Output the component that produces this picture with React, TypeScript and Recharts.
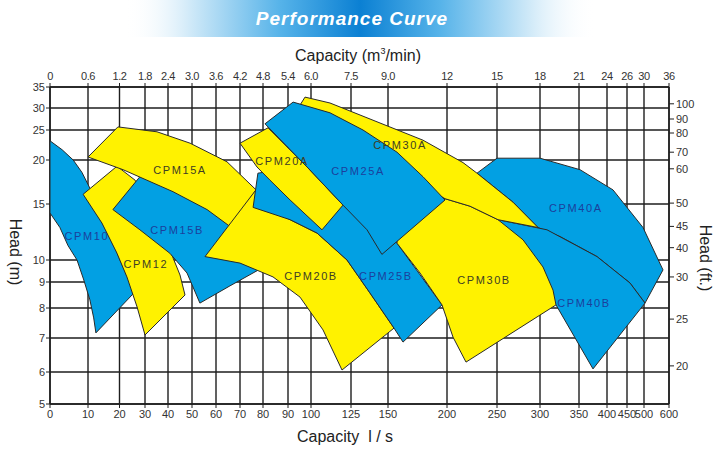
import React from 'react';
import { ComposedChart, Scatter, XAxis, YAxis, CartesianGrid } from 'recharts';

type Pt = [number, number]; // [capacity l/s, head m]

// axis ticks
const FLOW_TICKS = [0, 10, 20, 30, 40, 50, 60, 70, 80, 90, 100, 125, 150, 200, 250, 300, 350, 400, 450, 500, 600];
const FLOW_TICKS_M3 = ['0', '0.6', '1.2', '1.8', '2.4', '3.0', '3.6', '4.2', '4.8', '5.4', '6.0', '7.5', '9.0', '12', '15', '18', '21', '24', '26', '30', '36'];
const HEAD_TICKS = [5, 6, 7, 8, 9, 10, 15, 20, 25, 30, 35];
const HEAD_FT_TICKS = [20, 25, 30, 40, 45, 50, 60, 70, 80, 90, 100];
const HEAD_FT_AT_M = [6.18, 7.63, 9.23, 11.1, 13.0, 15.1, 19.0, 21.3, 24.5, 27.5, 31.0]; // where the ft ticks sit on the metre scale

// the printed graph paper is hand spaced (neither linear nor log):
// distance of every tick from the axis origin
const FLOW_PAPER = [0, 38, 69.5, 95, 118, 142, 166, 190, 213, 238, 261, 301, 338, 397, 447, 490, 529, 557, 577, 594, 619];
const HEAD_PAPER = [0, 32, 66, 96, 122, 144, 200, 244, 274, 296, 317];

// pump coverage regions, outline points (capacity l/s, head m)
const CPM10: Pt[] = [[0, 23.2], [3.2, 21.7], [6.1, 20], [8.4, 18.6], [10.6, 16.8], [13.8, 14.5], [17, 12.2], [20.2, 10], [23.3, 9.18], [25.7, 8.58], [12.5, 7.17], [11.8, 7.67], [10.6, 8.31], [8.9, 9.09], [7.1, 10], [4.7, 11.3], [2.6, 12.9], [0, 14.2]];
const CPM12: Pt[] = [[8.7, 16.1], [19.2, 19.3], [26.1, 17.7], [32.2, 14.9], [38.7, 12.2], [41.7, 10.4], [45, 9.32], [47.1, 8.5], [30, 7.1], [26.9, 8.04], [22.9, 9.23], [19.2, 10.6], [14.4, 13.3]];
const CPM15B: Pt[] = [[17.9, 14.5], [28, 18.1], [38.7, 16.9], [49.2, 15.7], [59.6, 14.3], [70, 12.9], [79.6, 11.3], [79.6, 9.64], [65.8, 8.85], [53.3, 8.19], [47.9, 9.41], [40.8, 10.6], [28, 12.7]];
const CPM15A: Pt[] = [[10, 20.5], [19.5, 25.7], [35.2, 24.7], [49.2, 22.8], [64.6, 19.8], [77, 16.6], [65.8, 13], [56.3, 14.5], [42.1, 16.4], [21.4, 18.9]];
const CPM20B: Pt[] = [[55.4, 10.3], [77.2, 16.7], [81.2, 14.8], [90.9, 13.6], [103.8, 12.4], [122.5, 10], [137.8, 8.58], [155.1, 7.33], [119.4, 6.06], [107.5, 7.27], [95.2, 8.42], [84, 9.23], [70, 9.86]];
const CPM25B: Pt[] = [[75.7, 14.7], [77.8, 18.5], [86.8, 18.9], [99.6, 17.7], [118.1, 16], [137.8, 14], [157.6, 11.5], [195.8, 8.12], [162.7, 6.88], [155.1, 7.33], [137.8, 8.58], [122.5, 10], [103.8, 12.4], [90.9, 13.6]];
const CPM20A: Pt[] = [[70, 22.8], [82, 25.5], [98.3, 19.2], [120, 14.9], [106.9, 12.7], [90.9, 15.45], [82.8, 17.7], [77.4, 19.2]];
const CPM40A: Pt[] = [[230, 18.5], [250, 20.3], [300, 20.3], [351.8, 18.9], [415, 16.6], [497, 12.9], [576, 9.55], [504, 8.19], [458.8, 8.96], [382.1, 10.3], [325.6, 12.1], [297.7, 12.9], [268.6, 15.2]];
const CPM40B: Pt[] = [[251.2, 13.6], [309, 12.7], [382.1, 10.3], [458.8, 8.96], [504, 8.19], [375, 6.09], [320.5, 8.12], [276.7, 9.55]];
const CPM30B: Pt[] = [[160.2, 17.7], [198.3, 15.6], [223, 14.8], [251.2, 13.6], [280.2, 11.8], [303.8, 9.68], [316.7, 8.69], [320.5, 8.12], [219, 6.29], [206, 7.03], [195.8, 8.12], [177.1, 9.41], [157.6, 11.5]];
const CPM30A: Pt[] = [[97.4, 32.6], [111.9, 31.2], [144.6, 26.6], [179.7, 23.3], [216, 19.7], [230, 18.5], [268.6, 15.2], [297.7, 12.9], [251.2, 13.6], [223, 14.8], [198.3, 15.6], [160.2, 18.6], [124.4, 23.3], [100.9, 29.1], [95.2, 30.7]];
const CPM25A: Pt[] = [[80.8, 26.4], [92.2, 31.4], [111.9, 28.9], [133.1, 25], [157.6, 21.3], [179.7, 18.1], [198.3, 15.45], [145.9, 10.5], [135.8, 12.7], [120, 14.9], [98.3, 19.2]];

// label anchors
const LABEL_NAMES = ['CPM10', 'CPM12', 'CPM15A', 'CPM15B', 'CPM20A', 'CPM25A', 'CPM30A', 'CPM20B', 'CPM25B', 'CPM30B', 'CPM40A', 'CPM40B'];
const LABEL_AT: Pt[] = [[9.7, 12.1], [30.4, 9.82], [45, 18.9], [43.8, 12.7], [87.6, 19.9], [129.8, 18.8], [160.2, 22.5], [100, 9.27], [148.6, 9.27], [237, 9.09], [346, 14.6], [358.9, 8.19]];

const BLUE = '#02a0e3';
const YELLOW = '#fff200';
const INK = '#1e1e1e';
const FONT = '"Liberation Sans", Arial, sans-serif';

// back to front
const MODELS = [
  { name: 'CPM10', pts: CPM10, fill: BLUE },
  { name: 'CPM12', pts: CPM12, fill: YELLOW },
  { name: 'CPM15B', pts: CPM15B, fill: BLUE },
  { name: 'CPM15A', pts: CPM15A, fill: YELLOW },
  { name: 'CPM20B', pts: CPM20B, fill: YELLOW },
  { name: 'CPM25B', pts: CPM25B, fill: BLUE },
  { name: 'CPM20A', pts: CPM20A, fill: YELLOW },
  { name: 'CPM40A', pts: CPM40A, fill: BLUE },
  { name: 'CPM40B', pts: CPM40B, fill: BLUE },
  { name: 'CPM30B', pts: CPM30B, fill: YELLOW },
  { name: 'CPM30A', pts: CPM30A, fill: YELLOW },
  { name: 'CPM25A', pts: CPM25A, fill: BLUE },
];

const warp = (v: number, from: number[], to: number[]) => {
  for (let i = 1; i < from.length; i++) {
    if (v <= from[i]) {
      const t = (v - from[i - 1]) / (from[i] - from[i - 1]);
      return to[i - 1] + t * (to[i] - to[i - 1]);
    }
  }
  return to[to.length - 1];
};
const qx = (q: number) => warp(q, FLOW_TICKS, FLOW_PAPER);
const hy = (h: number) => warp(h, HEAD_TICKS, HEAD_PAPER);
const toPaper = (pts: Pt[]) => pts.map(([q, h]) => ({ x: qx(q), y: hy(h) }));

const nearest = (v: number, pos: number[]) => {
  let best = 0;
  pos.forEach((p, i) => {
    if (Math.abs(p - v) < Math.abs(pos[best] - v)) best = i;
  });
  return best;
};

const FT_PAPER = HEAD_FT_AT_M.map(hy);

const polyPath = (pts: { x: number; y: number }[]) =>
  pts.map((p, i) => `${i ? 'L' : 'M'}${p.x.toFixed(1)},${p.y.toFixed(1)}`).join('') + 'Z';

const labelData = LABEL_NAMES.map((name, i) => ({
  x: qx(LABEL_AT[i][0]),
  y: hy(LABEL_AT[i][1]),
  name,
  onBlue: MODELS.find((m) => m.name === name)!.fill === BLUE,
}));

const tickStyle = { fontSize: 11, fill: '#333', fontFamily: FONT };

export default function App() {
  return (
    <div style={{ position: 'absolute', left: 0, top: 0, width: 720, height: 456, background: '#fff', fontFamily: FONT }}>
      <ComposedChart width={720} height={456} margin={{ top: 0, right: 0, bottom: 0, left: 0 }}>
        <CartesianGrid xAxisId="q" yAxisId="h" stroke={INK} strokeWidth={1.4} />
        <XAxis
          xAxisId="q"
          orientation="bottom"
          type="number"
          dataKey="x"
          domain={[0, 619]}
          ticks={FLOW_PAPER}
          interval={0}
          height={52}
          allowDataOverflow
          tickFormatter={(v: number) => String(FLOW_TICKS[nearest(v, FLOW_PAPER)])}
          tick={tickStyle}
          tickSize={4}
          tickMargin={2}
          axisLine={{ stroke: INK, strokeWidth: 1.5 }}
          tickLine={{ stroke: INK }}
        />
        <XAxis
          xAxisId="m3"
          orientation="top"
          type="number"
          dataKey="x"
          domain={[0, 619]}
          ticks={FLOW_PAPER}
          interval={0}
          height={87}
          allowDataOverflow
          tickFormatter={(v: number) => FLOW_TICKS_M3[nearest(v, FLOW_PAPER)]}
          tick={{ ...tickStyle, letterSpacing: -0.4 }}
          tickSize={4}
          tickMargin={3}
          axisLine={{ stroke: INK, strokeWidth: 1.5 }}
          tickLine={{ stroke: INK }}
        />
        <YAxis
          yAxisId="h"
          orientation="left"
          type="number"
          dataKey="y"
          domain={[0, 317]}
          ticks={HEAD_PAPER}
          interval={0}
          width={50}
          allowDataOverflow
          tickFormatter={(v: number) => String(HEAD_TICKS[nearest(v, HEAD_PAPER)])}
          tick={tickStyle}
          tickSize={4}
          tickMargin={1}
          axisLine={{ stroke: INK, strokeWidth: 1.5 }}
          tickLine={{ stroke: INK }}
        />
        <YAxis
          yAxisId="ft"
          orientation="right"
          type="number"
          dataKey="y"
          domain={[0, 317]}
          ticks={FT_PAPER}
          interval={0}
          width={51}
          allowDataOverflow
          tickFormatter={(v: number) => String(HEAD_FT_TICKS[nearest(v, FT_PAPER)])}
          tick={tickStyle}
          tickSize={5}
          tickMargin={2}
          axisLine={{ stroke: INK, strokeWidth: 1.5 }}
          tickLine={{ stroke: INK }}
        />

        {MODELS.map((m) => (
          <Scatter
            key={m.name}
            name={m.name}
            data={toPaper(m.pts)}
            xAxisId="q"
            yAxisId="h"
            isAnimationActive={false}
            line={(p: any) => (
              <path d={polyPath(p.points)} fill={m.fill} stroke="#2a2a2a" strokeWidth={1} strokeLinejoin="round" />
            )}
            shape={() => <g />}
          />
        ))}

        <Scatter
          name="labels"
          data={labelData}
          xAxisId="q"
          yAxisId="h"
          isAnimationActive={false}
          shape={(p: any) => (
            <text
              x={p.cx}
              y={p.cy}
              textAnchor="middle"
              dominantBaseline="central"
              fontSize={11}
              letterSpacing={1.6}
              fontFamily={FONT}
              fill={p.payload.onBlue ? '#1c3f9c' : '#3d3d24'}
            >
              {p.payload.name}
            </text>
          )}
        />
      </ComposedChart>

      <svg width={720} height={456} style={{ position: 'absolute', left: 0, top: 0, pointerEvents: 'none' }}>
        <defs>
          <linearGradient id="banner" x1="0" y1="0" x2="1" y2="0">
            <stop offset="0%" stopColor="#ffffff" stopOpacity={0} />
            <stop offset="14%" stopColor="#cfe9f8" />
            <stop offset="33%" stopColor="#56b3e9" />
            <stop offset="50%" stopColor="#0b80d3" />
            <stop offset="67%" stopColor="#56b3e9" />
            <stop offset="86%" stopColor="#cfe9f8" />
            <stop offset="100%" stopColor="#ffffff" stopOpacity={0} />
          </linearGradient>
        </defs>
        <rect x={125} y={0} width={470} height={37} fill="url(#banner)" />
        <text x={352} y={25} textAnchor="middle" fontSize={19} fontWeight="bold" fontStyle="italic" letterSpacing={1} fill="#fff" fontFamily={FONT}>
          Performance Curve
        </text>

        <text x={358} y={61} textAnchor="middle" fontSize={16} fill="#222" fontFamily={FONT}>
          Capacity  (m<tspan fontSize={9} dy={-7}>3</tspan><tspan dy={7}>/min)</tspan>
        </text>
        <text x={345} y={442} textAnchor="middle" fontSize={16} fill="#222" fontFamily={FONT} xmlSpace="preserve">
          Capacity  l / s
        </text>
        <text x={0} y={0} transform="translate(10,252) rotate(90)" textAnchor="middle" fontSize={16} fill="#222" fontFamily={FONT}>
          Head (m)
        </text>
        <text x={0} y={0} transform="translate(700,258) rotate(90)" textAnchor="middle" fontSize={16} fill="#222" fontFamily={FONT}>
          Head (ft.)
        </text>
      </svg>
    </div>
  );
}
